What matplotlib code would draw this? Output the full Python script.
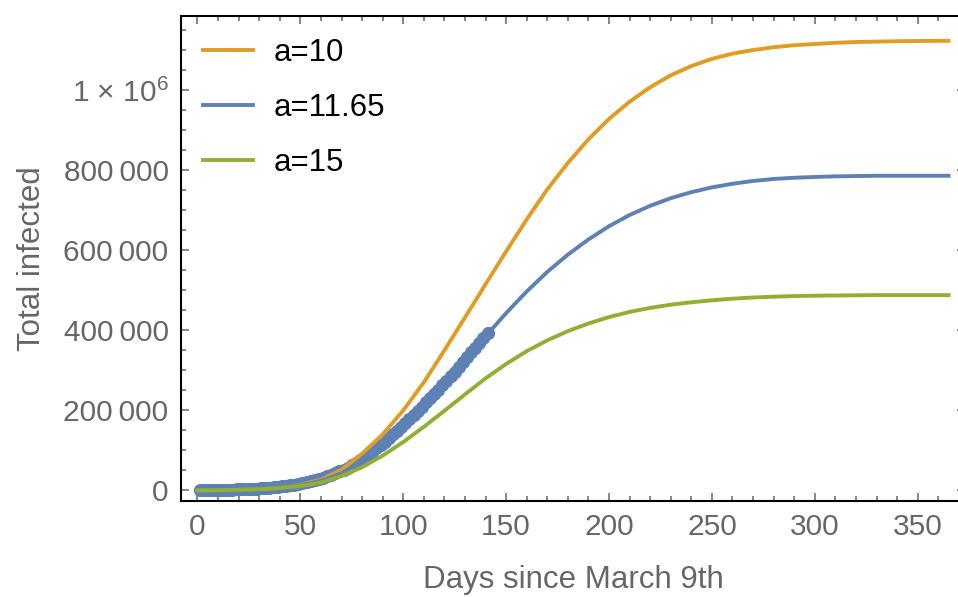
import matplotlib
matplotlib.use("Agg")
import matplotlib.pyplot as plt
from matplotlib.ticker import MultipleLocator, FixedLocator, FixedFormatter

# Model curves (day, total infected)
days = [0, 10, 20, 30, 40, 50, 60, 70, 80, 90, 100, 110, 120, 130, 140, 150,
        160, 170, 180, 190, 200, 210, 220, 230, 240, 250, 260, 270, 280, 290,
        300, 310, 320, 330, 340, 350, 360, 365]

a10 = [300, 800, 1800, 3500, 7000, 14000, 27000, 52000, 92000, 140000, 200000,
       270000, 350000, 432000, 515000, 597000, 677000, 752000, 818000, 877000,
       928000, 971000, 1007000, 1037000, 1060000, 1078000, 1091000, 1100000,
       1107000, 1112000, 1115000, 1118000, 1120000, 1121000, 1122000, 1122500,
       1123000, 1123000]

a1165 = [300, 800, 1800, 3500, 7000, 13000, 24000, 43000, 73000, 113000, 160000,
         212000, 267000, 325000, 385000, 443000, 497000, 546000, 589000, 627000,
         660000, 688000, 711000, 730000, 745000, 757000, 766000, 773000, 778000,
         781000, 783000, 784500, 785300, 786000, 786000, 786000, 786000, 786000]

a15 = [300, 800, 1700, 3200, 6000, 11000, 20000, 36000, 58000, 87000, 121000,
       159000, 199000, 240000, 280000, 316000, 348000, 375000, 398000, 417000,
       433000, 446000, 456000, 464000, 470000, 475000, 479000, 482000, 484000,
       485500, 486500, 487000, 487500, 488000, 488000, 488000, 488000, 488000]

# Observed cases (every second day)
obs_days = list(range(1, 142, 2))
obs_cases = [100, 200, 400, 600, 900, 1200, 1500, 1900, 2300, 2700, 3000, 3400,
             3800, 4200, 4600, 5000, 5600, 6500, 7800, 9000, 10500, 11800,
             13200, 14800, 16500, 18500, 20500, 23000, 25500, 28500, 31500,
             35000, 39000, 43000, 47500, 52000, 57000, 62500, 68500, 75000,
             82000, 89500, 97000, 105000, 113500, 122000, 131000, 140000,
             149500, 159000, 169000, 179000, 189000, 199000, 209500, 220000,
             230500, 241000, 252000, 263000, 274000, 285500, 297000, 309000,
             321000, 333000, 345000, 357000, 369000, 381000, 393000]

x_ticks = [0, 50, 100, 150, 200, 250, 300, 350]
y_ticks = [0, 200000, 400000, 600000, 800000, 1000000]
y_labels = ["0", "200\u2009000", "400\u2009000", "600\u2009000", "800\u2009000",
            r"1 × 10$^{6}$"]

C_ORANGE = "#e19c24"
C_BLUE = "#5e81b5"
C_GREEN = "#8fb032"
C_GRAY = "#666666"

plt.rcParams["font.family"] = ["Liberation Sans", "DejaVu Sans"]
plt.rcParams["mathtext.fontset"] = "custom"
plt.rcParams["mathtext.rm"] = "Liberation Sans"
plt.rcParams["mathtext.it"] = "Liberation Sans:italic"

fig = plt.figure(figsize=(9.58, 5.97), dpi=100)
ax = fig.add_axes([181 / 958, 1 - 500.5 / 597, (965 - 181) / 958, (500.5 - 16) / 597])

ax.plot(obs_days, obs_cases, "o", color=C_BLUE, ms=9.5, mec="none", zorder=2)
ax.plot(days, a10, color=C_ORANGE, lw=2.8, label="a=10", zorder=3)
ax.plot(days, a1165, color=C_BLUE, lw=2.8, label="a=11.65", zorder=3)
ax.plot(days, a15, color=C_GREEN, lw=2.8, label="a=15", zorder=3)

ax.set_xlim(-8, 373)
ax.set_ylim(-25000, 1185000)

ax.xaxis.set_major_locator(FixedLocator(x_ticks))
ax.xaxis.set_minor_locator(MultipleLocator(10))
ax.yaxis.set_major_locator(FixedLocator(y_ticks))
ax.yaxis.set_major_formatter(FixedFormatter(y_labels))
ax.yaxis.set_minor_locator(MultipleLocator(50000))

for s in ax.spines.values():
    s.set_linewidth(1.5)
    s.set_color("black")

ax.tick_params(which="both", direction="in", top=True, right=True,
               color=C_GRAY, width=1.1, labelcolor=C_GRAY, labelsize=21.5)
ax.tick_params(which="major", length=6)
ax.tick_params(which="minor", length=3.5)
ax.tick_params(axis="x", pad=9)
ax.tick_params(axis="y", pad=9)

ax.set_xlabel("Days since March 9th", fontsize=22.5, color=C_GRAY, labelpad=17)
ax.set_ylabel("Total infected", fontsize=22.5, color=C_GRAY, labelpad=12)

ax.legend(loc="upper left", bbox_to_anchor=(0.0, 1.0), frameon=False,
          fontsize=22.5, handlelength=1.6, handletextpad=0.65,
          labelspacing=0.8, borderaxespad=0.3)

fig.savefig("out.png", dpi=100)
